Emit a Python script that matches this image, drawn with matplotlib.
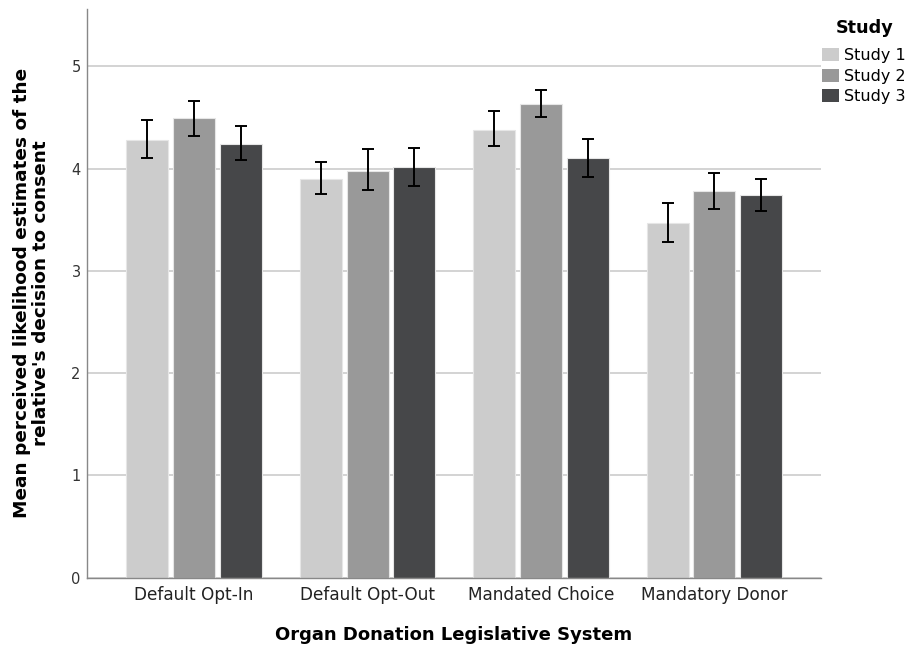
import numpy as np
from matplotlib import pyplot as plt
from matplotlib.patches import Patch

# Values.
systems = ["Default Opt-In", "Default Opt-Out", "Mandated Choice", "Mandatory Donor"]
studies = ["Study 1", "Study 2", "Study 3"]
means = [
    [4.28, 3.90, 4.38, 3.47],
    [4.49, 3.98, 4.63, 3.78],
    [4.24, 4.01, 4.10, 3.74],
]
err_low = [
    [4.10, 3.75, 4.22, 3.28],
    [4.32, 3.79, 4.50, 3.60],
    [4.08, 3.83, 3.92, 3.58],
]
err_high = [
    [4.47, 4.06, 4.56, 3.66],
    [4.66, 4.19, 4.77, 3.96],
    [4.42, 4.20, 4.29, 3.90],
]
colors = ["#cccccc", "#999999", "#464749"]

plt.rcParams["font.family"] = ["DejaVu Sans"]

fig = plt.figure(figsize=(9.1, 6.51), dpi=100)
ax = fig.add_axes([87 / 910, 1 - 577.5 / 651, (821 - 87) / 910, (577.5 - 9) / 651])

x = np.arange(len(systems))
step = 0.269
width = 0.242
for i, study in enumerate(studies):
    pos = x + (i - 1) * step
    m = np.array(means[i])
    lo = m - np.array(err_low[i])
    hi = np.array(err_high[i]) - m
    ax.bar(pos, m, width=width, color=colors[i], edgecolor="#e6e6e6",
           linewidth=0.8, zorder=2)
    ax.errorbar(pos, m, yerr=[lo, hi], fmt="none", ecolor="black",
                elinewidth=1.4, capsize=4, capthick=1.4, zorder=3)

ax.set_xlim(-0.617, 3.614)
ax.set_ylim(0, 5.56)
ax.set_yticks([0, 1, 2, 3, 4, 5])
ax.set_xticks(x)
ax.set_xticklabels(systems, fontsize=12.2, color="#222222")
ax.tick_params(axis="x", length=0, pad=6)
ax.tick_params(axis="y", length=0, pad=4.5, labelsize=10.5, labelcolor="#333333")
ax.yaxis.grid(True, color="#c8c8c8", linewidth=1.1, zorder=0)
ax.set_axisbelow(True)
for side in ["top", "right"]:
    ax.spines[side].set_visible(False)
for side in ["left", "bottom"]:
    ax.spines[side].set_color("#888888")
    ax.spines[side].set_linewidth(1.0)

ax.set_xlabel("Organ Donation Legislative System", fontsize=13, fontweight="bold",
              labelpad=16)
ax.set_ylabel("Mean perceived likelihood estimates of the\nrelative's decision to consent",
              fontsize=13.3, fontweight="bold", labelpad=15.5, linespacing=1.05)

# Legend title drawn on its own so it can sit a little above the entries.
fig.text(865 / 910, 1 - 28 / 651, "Study", fontsize=12.7, fontweight="bold",
         ha="center", va="center")
handles = [Patch(facecolor=c, edgecolor="none") for c in colors]
fig.legend(handles, studies, loc="upper left",
           bbox_to_anchor=(822 / 910, 1 - 48 / 651), frameon=False,
           fontsize=11.5, handlelength=1.06, handleheight=0.9,
           handletextpad=0.3, labelspacing=0.34, borderpad=0, borderaxespad=0)

fig.savefig("out.png", dpi=100)
